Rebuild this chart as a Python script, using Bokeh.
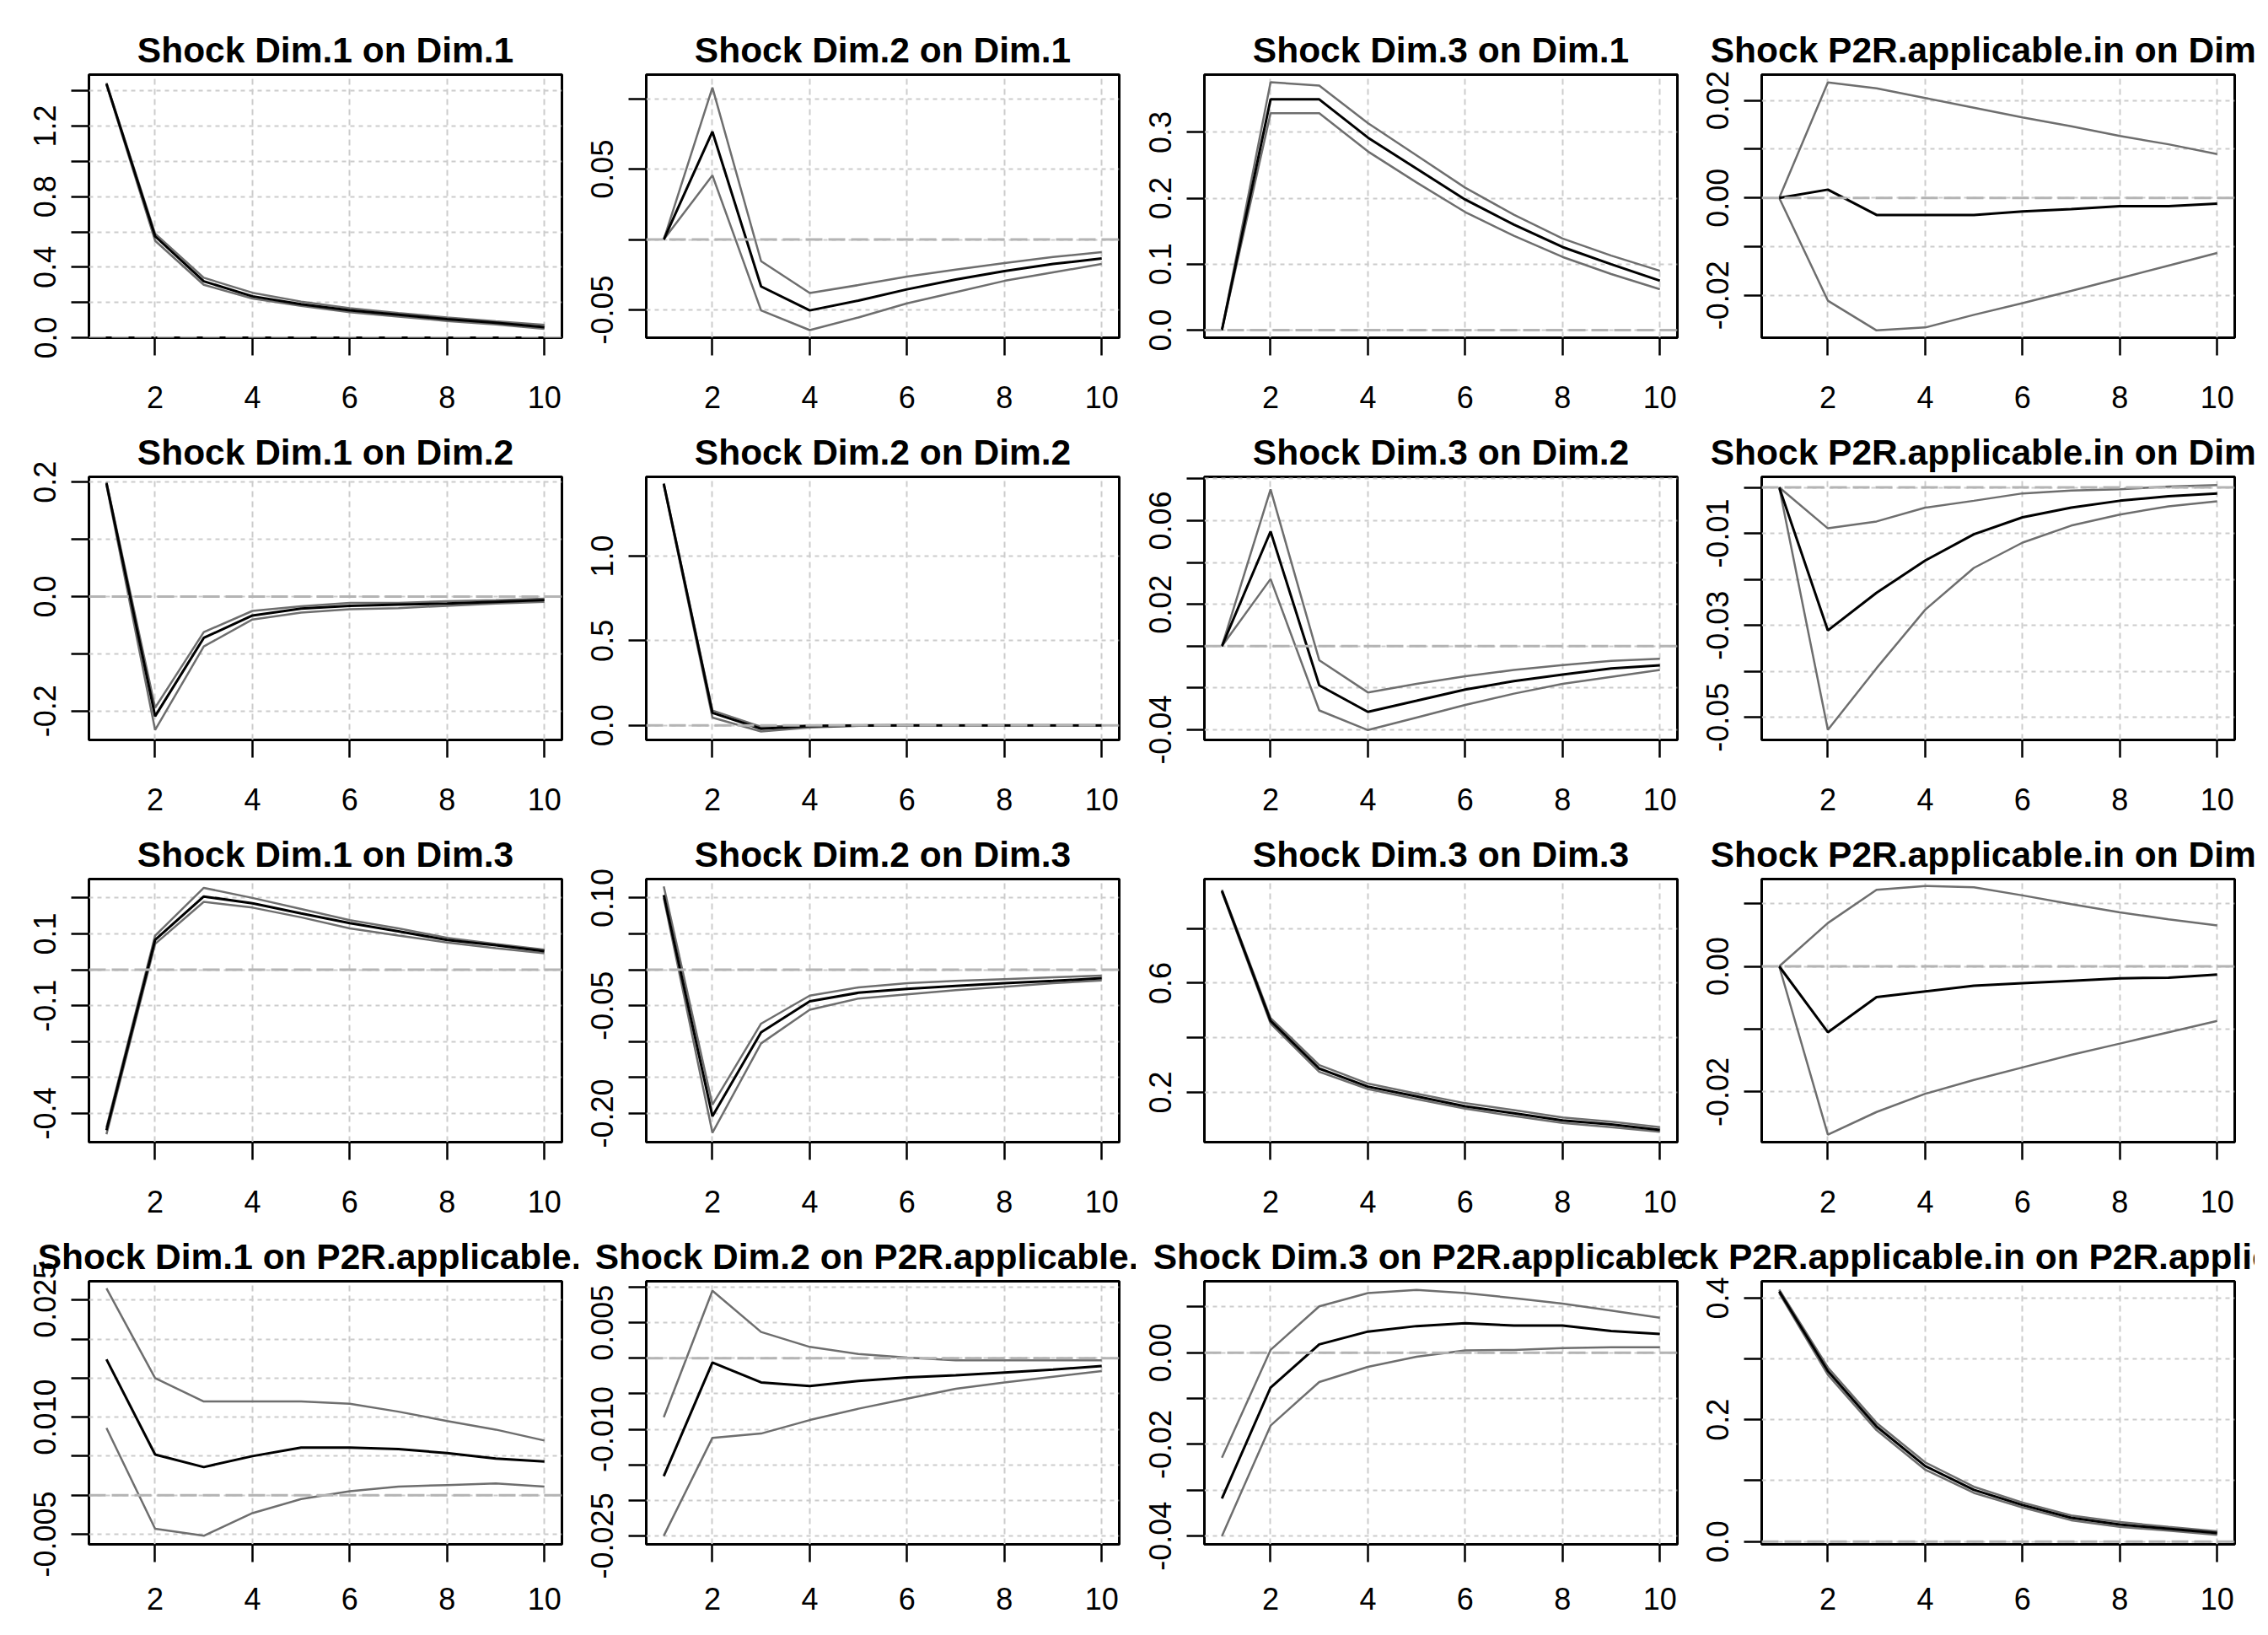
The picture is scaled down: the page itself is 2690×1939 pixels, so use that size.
from bokeh.plotting import figure
from bokeh.models import Range1d, FixedTicker, Span
from bokeh.layouts import column, row
from bokeh.embed import file_html
from bokeh.resources import INLINE

steps = [1, 2, 3, 4, 5, 6, 7, 8, 9, 10]
x_ticks = [2, 4, 6, 8, 10]

# ---- Row 1: response of Dim.1 ----
d1_d1 = [1.44, 0.575, 0.32, 0.235, 0.19, 0.155, 0.13, 0.105, 0.085, 0.06]
d1_d1_hi = [1.445, 0.59, 0.34, 0.255, 0.205, 0.167, 0.14, 0.115, 0.093, 0.073]
d1_d1_lo = [1.435, 0.55, 0.30, 0.222, 0.18, 0.145, 0.12, 0.095, 0.075, 0.05]

d2_d1 = [0, 0.0766, -0.0334, -0.0504, -0.0434, -0.0354, -0.0284, -0.0224, -0.0174, -0.0134]
d2_d1_hi = [0, 0.108, -0.0154, -0.038, -0.0324, -0.0264, -0.0214, -0.0168, -0.0124, -0.009]
d2_d1_lo = [0, 0.0456, -0.0504, -0.0644, -0.0554, -0.0454, -0.0374, -0.0294, -0.0234, -0.0174]

d3_d1 = [0, 0.350, 0.350, 0.292, 0.245, 0.198, 0.160, 0.126, 0.100, 0.075]
d3_d1_hi = [0, 0.376, 0.371, 0.314, 0.265, 0.216, 0.175, 0.139, 0.113, 0.090]
d3_d1_lo = [0, 0.329, 0.329, 0.271, 0.224, 0.179, 0.143, 0.111, 0.085, 0.062]

p2r_d1 = [0, 0.0017, -0.0035, -0.0035, -0.0035, -0.0028, -0.0023, -0.0017, -0.0017, -0.0012]
p2r_d1_hi = [0, 0.0237, 0.0225, 0.0205, 0.0185, 0.0165, 0.0147, 0.0127, 0.011, 0.009]
p2r_d1_lo = [0, -0.0211, -0.0272, -0.0266, -0.024, -0.0216, -0.0191, -0.0165, -0.0139, -0.0113]

# ---- Row 2: response of Dim.2 ----
d1_d2 = [0.198, -0.209, -0.072, -0.033, -0.021, -0.016, -0.014, -0.012, -0.009, -0.006]
d1_d2_hi = [0.2, -0.194, -0.062, -0.025, -0.017, -0.011, -0.011, -0.008, -0.006, -0.0035]
d1_d2_lo = [0.195, -0.233, -0.087, -0.040, -0.028, -0.022, -0.020, -0.016, -0.012, -0.009]

d2_d2 = [1.426, 0.074, -0.020, -0.004, -0.001, 0.0, 0.0, 0.0, 0.0, 0.0]
d2_d2_hi = [1.43, 0.088, -0.008, 0.0, 0.001, 0.001, 0.0, 0.0, 0.0, 0.0]
d2_d2_lo = [1.42, 0.046, -0.036, -0.012, -0.003, -0.001, 0.0, 0.0, 0.0, 0.0]

d3_d2 = [0, 0.0548, -0.0187, -0.0314, -0.0261, -0.0207, -0.0167, -0.0136, -0.0107, -0.0091]
d3_d2_hi = [0, 0.0749, -0.0067, -0.0221, -0.018, -0.0144, -0.0114, -0.009, -0.007, -0.006]
d3_d2_lo = [0, 0.0321, -0.0307, -0.0401, -0.0341, -0.0281, -0.0227, -0.018, -0.0147, -0.0114]

p2r_d2 = [0, -0.0311, -0.0229, -0.0159, -0.0102, -0.0065, -0.0044, -0.0029, -0.0019, -0.0013]
p2r_d2_hi = [0, -0.0089, -0.0074, -0.0044, -0.0029, -0.0013, -0.0007, -0.0004, 0.0002, 0.0005]
p2r_d2_lo = [0, -0.0527, -0.0393, -0.0266, -0.0175, -0.012, -0.0083, -0.0059, -0.0041, -0.003]

# ---- Row 3: response of Dim.3 ----
d1_d3 = [-0.447, 0.083, 0.204, 0.185, 0.157, 0.130, 0.107, 0.083, 0.068, 0.052]
d1_d3_hi = [-0.439, 0.095, 0.228, 0.20, 0.169, 0.138, 0.115, 0.089, 0.072, 0.056]
d1_d3_lo = [-0.458, 0.072, 0.189, 0.173, 0.146, 0.115, 0.095, 0.076, 0.06, 0.046]

d2_d3 = [0.104, -0.204, -0.087, -0.044, -0.032, -0.0265, -0.0226, -0.0187, -0.0156, -0.0117]
d2_d3_hi = [0.116, -0.188, -0.075, -0.036, -0.0246, -0.0187, -0.0155, -0.013, -0.0105, -0.008]
d2_d3_lo = [0.100, -0.227, -0.1025, -0.0557, -0.040, -0.0343, -0.0285, -0.0238, -0.0187, -0.0148]

d3_d3 = [0.938, 0.462, 0.287, 0.221, 0.185, 0.149, 0.123, 0.097, 0.082, 0.062]
d3_d3_hi = [0.942, 0.472, 0.30, 0.232, 0.195, 0.16, 0.135, 0.108, 0.092, 0.072]
d3_d3_lo = [0.934, 0.452, 0.275, 0.212, 0.175, 0.14, 0.113, 0.088, 0.072, 0.055]

p2r_d3 = [0, -0.0105, -0.0049, -0.004, -0.0031, -0.0027, -0.0023, -0.0019, -0.0018, -0.0013]
p2r_d3_hi = [0, 0.0069, 0.0122, 0.0128, 0.0126, 0.0113, 0.0099, 0.0086, 0.0075, 0.0065]
p2r_d3_lo = [0, -0.0268, -0.0232, -0.0203, -0.0181, -0.0161, -0.0141, -0.0123, -0.0105, -0.0087]

# ---- Row 4: response of P2R.applicable.in ----
d1_p2r = [0.0174, 0.0052, 0.0036, 0.005, 0.0061, 0.0061, 0.0059, 0.0054, 0.0047, 0.0043]
d1_p2r_hi = [0.0265, 0.015, 0.012, 0.012, 0.012, 0.0117, 0.0107, 0.0095, 0.0084, 0.007]
d1_p2r_lo = [0.0086, -0.0043, -0.0052, -0.0023, -0.0005, 0.0005, 0.0011, 0.0013, 0.0015, 0.0011]

d2_p2r = [-0.0166, -0.0006, -0.0034, -0.0039, -0.0032, -0.0027, -0.0024, -0.002, -0.0016, -0.0011]
d2_p2r_hi = [-0.0083, 0.0095, 0.0037, 0.0016, 0.0006, 0.0001, -0.0003, -0.0003, -0.0003, -0.0003]
d2_p2r_lo = [-0.025, -0.0112, -0.0106, -0.0087, -0.0071, -0.0057, -0.0043, -0.0034, -0.0026, -0.0018]

d3_p2r = [-0.0318, -0.0076, 0.0018, 0.0046, 0.0058, 0.0064, 0.0059, 0.0059, 0.0047, 0.0041]
d3_p2r_hi = [-0.0229, 0.0006, 0.0101, 0.013, 0.0137, 0.013, 0.0119, 0.0107, 0.0092, 0.0076]
d3_p2r_lo = [-0.04, -0.0159, -0.0064, -0.0031, -0.0009, 0.0005, 0.0006, 0.001, 0.0012, 0.0012]

p2r_p2r = [0.411, 0.280, 0.189, 0.124, 0.085, 0.060, 0.039, 0.028, 0.021, 0.014]
p2r_p2r_hi = [0.414, 0.286, 0.195, 0.130, 0.090, 0.064, 0.043, 0.032, 0.024, 0.017]
p2r_p2r_lo = [0.408, 0.274, 0.183, 0.118, 0.080, 0.056, 0.035, 0.024, 0.018, 0.011]

# ---- titles, y ranges, y ticks and visible tick labels ----
titles = [
    ["Shock Dim.1 on Dim.1", "Shock Dim.2 on Dim.1", "Shock Dim.3 on Dim.1", "Shock P2R.applicable.in on Dim.1"],
    ["Shock Dim.1 on Dim.2", "Shock Dim.2 on Dim.2", "Shock Dim.3 on Dim.2", "Shock P2R.applicable.in on Dim.2"],
    ["Shock Dim.1 on Dim.3", "Shock Dim.2 on Dim.3", "Shock Dim.3 on Dim.3", "Shock P2R.applicable.in on Dim.3"],
    ["Shock Dim.1 on P2R.applicable.in", "Shock Dim.2 on P2R.applicable.in",
     "Shock Dim.3 on P2R.applicable.in", "Shock P2R.applicable.in on P2R.applicable.in"],
]

series = [
    [(d1_d1, d1_d1_lo, d1_d1_hi), (d2_d1, d2_d1_lo, d2_d1_hi), (d3_d1, d3_d1_lo, d3_d1_hi), (p2r_d1, p2r_d1_lo, p2r_d1_hi)],
    [(d1_d2, d1_d2_lo, d1_d2_hi), (d2_d2, d2_d2_lo, d2_d2_hi), (d3_d2, d3_d2_lo, d3_d2_hi), (p2r_d2, p2r_d2_lo, p2r_d2_hi)],
    [(d1_d3, d1_d3_lo, d1_d3_hi), (d2_d3, d2_d3_lo, d2_d3_hi), (d3_d3, d3_d3_lo, d3_d3_hi), (p2r_d3, p2r_d3_lo, p2r_d3_hi)],
    [(d1_p2r, d1_p2r_lo, d1_p2r_hi), (d2_p2r, d2_p2r_lo, d2_p2r_hi), (d3_p2r, d3_p2r_lo, d3_p2r_hi), (p2r_p2r, p2r_p2r_lo, p2r_p2r_hi)],
]

y_ranges = [
    [(0.0, 1.492), (-0.0698, 0.1172), (-0.0115, 0.3875), (-0.0287, 0.0253)],
    [(-0.2504, 0.2093), (-0.086, 1.468), (-0.0448, 0.0809), (-0.0549, 0.0023)],
    [(-0.480, 0.2525), (-0.240, 0.1263), (0.0174, 0.9815), (-0.028, 0.0139)],
    [(-0.0063, 0.0274), (-0.0262, 0.01084), (-0.0418, 0.01557), (-0.0046, 0.4276)],
]

y_ticks = [
    [[0.0, 0.2, 0.4, 0.6, 0.8, 1.0, 1.2, 1.4], [-0.05, 0.0, 0.05, 0.10],
     [0.0, 0.1, 0.2, 0.3], [-0.02, -0.01, 0.0, 0.01, 0.02]],
    [[-0.2, -0.1, 0.0, 0.1, 0.2], [0.0, 0.5, 1.0],
     [-0.04, -0.02, 0.0, 0.02, 0.04, 0.06, 0.08], [-0.05, -0.04, -0.03, -0.02, -0.01, 0.0]],
    [[-0.4, -0.3, -0.2, -0.1, 0.0, 0.1, 0.2], [-0.20, -0.15, -0.10, -0.05, 0.0, 0.05, 0.10],
     [0.2, 0.4, 0.6, 0.8], [-0.02, -0.01, 0.0, 0.01]],
    [[-0.005, 0.0, 0.005, 0.010, 0.015, 0.020, 0.025],
     [-0.025, -0.020, -0.015, -0.010, -0.005, 0.0, 0.005, 0.010],
     [-0.04, -0.03, -0.02, -0.01, 0.0, 0.01], [0.0, 0.1, 0.2, 0.3, 0.4]],
]

y_labels = [
    [["0.0", "", "0.4", "", "0.8", "", "1.2", ""], ["-0.05", "", "0.05", ""],
     ["0.0", "0.1", "0.2", "0.3"], ["-0.02", "", "0.00", "", "0.02"]],
    [["-0.2", "", "0.0", "", "0.2"], ["0.0", "0.5", "1.0"],
     ["-0.04", "", "", "0.02", "", "0.06", ""], ["-0.05", "", "-0.03", "", "-0.01", ""]],
    [["-0.4", "", "", "-0.1", "", "0.1", ""], ["-0.20", "", "", "-0.05", "", "", "0.10"],
     ["0.2", "", "0.6", ""], ["-0.02", "", "0.00", ""]],
    [["-0.005", "", "", "0.010", "", "", "0.025"],
     ["-0.025", "", "", "-0.010", "", "", "0.005", ""],
     ["-0.04", "", "-0.02", "", "0.00", ""], ["0.0", "", "0.2", "", "0.4"]],
]

# ---- layout geometry ----
FRAME_W = 561
FRAME_H = 312
col_w = [686, 661, 648, 679]
col_left = [105, 80, 81, 94]
row_top = [88, 67, 67, 67]
row_bottom = [98, 98, 98, 92]
x_standoff = [36, 36, 36, 30]

FONT = "Liberation Sans"
GRID_COL = "#cccccc"
CI_COL = "#6e6e6e"

rows = []
for r in range(4):
    figs = []
    for c in range(4):
        w = col_w[c]
        L = col_left[c]
        R = w - L - FRAME_W
        h = row_top[r] + FRAME_H + row_bottom[r]
        y0, y1 = y_ranges[r][c]
        p = figure(width=w, height=h, output_backend="svg", toolbar_location=None, tools="",
                   x_range=Range1d(0.64, 10.36), y_range=Range1d(y0, y1),
                   min_border_left=L, min_border_right=R,
                   min_border_top=row_top[r], min_border_bottom=row_bottom[r])
        p.background_fill_color = "white"
        p.border_fill_color = "white"
        p.outline_line_color = "black"
        p.outline_line_width = 3
        p.outline_line_alpha = 1.0

        p.title.text = titles[r][c]
        p.title.align = "center"
        p.title.text_font = FONT
        p.title.text_font_size = "42.5px"
        p.title.text_font_style = "bold"
        p.title.text_color = "black"
        p.title.standoff = 11

        xt = FixedTicker(ticks=x_ticks)
        p.xaxis.ticker = xt
        p.xgrid.ticker = xt
        yt = FixedTicker(ticks=y_ticks[r][c])
        p.yaxis.ticker = yt
        p.ygrid.ticker = yt
        p.yaxis.major_label_overrides = {t: s for t, s in zip(y_ticks[r][c], y_labels[r][c])}

        for ax in (p.xaxis, p.yaxis):
            ax.axis_line_color = None
            ax.major_tick_line_color = "black"
            ax.major_tick_line_width = 2.5
            ax.major_tick_in = 0
            ax.minor_tick_line_color = None
            ax.major_label_text_font = FONT
            ax.major_label_text_font_size = "36px"
            ax.major_label_text_color = "black"
        p.xaxis.major_tick_out = 21
        p.xaxis.major_label_standoff = x_standoff[r]
        p.yaxis.major_tick_out = 21
        p.yaxis.major_label_standoff = 18
        p.yaxis.major_label_orientation = "vertical"

        p.xgrid.grid_line_color = GRID_COL
        p.xgrid.grid_line_width = 2
        p.xgrid.grid_line_dash = "7 5"
        p.ygrid.grid_line_color = GRID_COL
        p.ygrid.grid_line_width = 2
        p.ygrid.grid_line_dash = "5 5"

        mid, lo, hi = series[r][c]
        p.line(steps, hi, line_color=CI_COL, line_width=2.5)
        p.line(steps, lo, line_color=CI_COL, line_width=2.5)
        p.line(steps, mid, line_color="black", line_width=3)

        p.add_layout(Span(location=0, dimension="width", line_color="#b4b4b4",
                          line_width=3, line_dash="20 7", level="overlay"))
        figs.append(p)
    rows.append(row(*figs))

layout = column(*rows)
open("out.html", "w").write(file_html(layout, INLINE))
